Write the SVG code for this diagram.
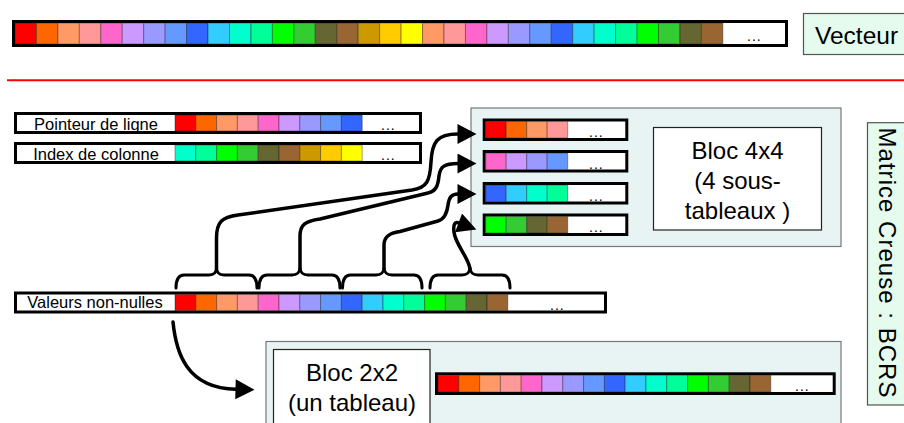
<svg xmlns="http://www.w3.org/2000/svg" width="904" height="423" viewBox="0 0 904 423">
<style>
text{font-family:"Liberation Sans",Arial,Helvetica,sans-serif;fill:#000}
.frame{fill:#fff;stroke:#000;stroke-width:3}
.cell rect{stroke:#000;stroke-opacity:.35;stroke-width:1}
.r{fill:#FF0000}.o{fill:#FF6600}.lo{fill:#FF9966}.pk{fill:#FF9999}.mg{fill:#FF66CC}.lv{fill:#CC99FF}.pw{fill:#9999FF}.cf{fill:#6699FF}.bl{fill:#3366FF}.cy{fill:#33CCFF}.aq{fill:#00FFCC}.sp{fill:#00FF99}.gr{fill:#00FF00}.g2{fill:#33CC33}.ol{fill:#666633}.br{fill:#996633}.gd{fill:#CC9900}.yo{fill:#FFCC00}.ye{fill:#FFFF00}
.dots{font-size:14px;letter-spacing:1px}
.lbl{font-size:16.5px;text-anchor:middle}
.big{font-size:24px;text-anchor:middle}
.cont{fill:#E8F4F4;stroke:#777;stroke-width:1.2}
.tbox{fill:#fff;stroke:#222;stroke-width:1.2}
.mint{fill:#E4FBEE;stroke:#555;stroke-width:1.2}
.conn path{fill:none;stroke:#000;stroke-width:3.5;stroke-linecap:round;stroke-linejoin:round}
.conn path.brace{stroke-width:3}
</style>
<defs>
<marker id="ah" markerUnits="userSpaceOnUse" markerWidth="20" markerHeight="20" viewBox="0 0 19 20" refX="0.5" refY="10" orient="auto">
<path d="M0,0 L19,10 L0,20 z" fill="#000"/>
</marker>
</defs>

<!-- Vecteur row -->
<g id="vector-array">
<rect class="frame" x="13.5" y="21.5" width="773" height="24"/>
<g class="cell">
<rect class="r" x="15" y="23" width="21.45" height="21"/>
<rect class="o" x="36.45" y="23" width="21.45" height="21"/>
<rect class="lo" x="57.9" y="23" width="21.45" height="21"/>
<rect class="pk" x="79.35" y="23" width="21.45" height="21"/>
<rect class="mg" x="100.8" y="23" width="21.45" height="21"/>
<rect class="lv" x="122.25" y="23" width="21.45" height="21"/>
<rect class="pw" x="143.7" y="23" width="21.45" height="21"/>
<rect class="cf" x="165.15" y="23" width="21.45" height="21"/>
<rect class="bl" x="186.6" y="23" width="21.45" height="21"/>
<rect class="cy" x="208.05" y="23" width="21.45" height="21"/>
<rect class="aq" x="229.5" y="23" width="21.45" height="21"/>
<rect class="sp" x="250.95" y="23" width="21.45" height="21"/>
<rect class="gr" x="272.4" y="23" width="21.45" height="21"/>
<rect class="g2" x="293.85" y="23" width="21.45" height="21"/>
<rect class="ol" x="315.3" y="23" width="21.45" height="21"/>
<rect class="br" x="336.75" y="23" width="21.45" height="21"/>
<rect class="gd" x="358.2" y="23" width="21.45" height="21"/>
<rect class="yo" x="379.65" y="23" width="21.45" height="21"/>
<rect class="ye" x="401.1" y="23" width="21.45" height="21"/>
<rect class="lo" x="422.55" y="23" width="21.45" height="21"/>
<rect class="pk" x="444" y="23" width="21.45" height="21"/>
<rect class="mg" x="465.45" y="23" width="21.45" height="21"/>
<rect class="lv" x="486.9" y="23" width="21.45" height="21"/>
<rect class="pw" x="508.35" y="23" width="21.45" height="21"/>
<rect class="cf" x="529.8" y="23" width="21.45" height="21"/>
<rect class="bl" x="551.25" y="23" width="21.45" height="21"/>
<rect class="cy" x="572.7" y="23" width="21.45" height="21"/>
<rect class="aq" x="594.15" y="23" width="21.45" height="21"/>
<rect class="sp" x="615.6" y="23" width="21.45" height="21"/>
<rect class="gr" x="637.05" y="23" width="21.45" height="21"/>
<rect class="g2" x="658.5" y="23" width="21.45" height="21"/>
<rect class="ol" x="679.95" y="23" width="21.45" height="21"/>
<rect class="br" x="701.4" y="23" width="21.45" height="21"/>
</g>
<text class="dots" x="747" y="41">...</text>
</g>

<g id="vecteur-label">
<rect class="mint" x="803.5" y="13.5" width="110" height="41"/>
<text x="815" y="44" style="font-size:24.5px">Vecteur</text>
</g>

<line x1="7" y1="80.3" x2="904" y2="80.3" stroke="#FF0000" stroke-width="2"/>

<!-- Pointeur de ligne -->
<g id="row-pointer">
<rect class="frame" x="15.5" y="113.5" width="405" height="19"/>
<text class="lbl" x="96" y="129.5">Pointeur de ligne</text>
<g class="cell">
<rect class="r" x="175" y="115" width="20.8" height="16"/>
<rect class="o" x="195.8" y="115" width="20.8" height="16"/>
<rect class="lo" x="216.6" y="115" width="20.8" height="16"/>
<rect class="pk" x="237.4" y="115" width="20.8" height="16"/>
<rect class="mg" x="258.2" y="115" width="20.8" height="16"/>
<rect class="lv" x="279" y="115" width="20.8" height="16"/>
<rect class="pw" x="299.8" y="115" width="20.8" height="16"/>
<rect class="cf" x="320.6" y="115" width="20.8" height="16"/>
<rect class="bl" x="341.4" y="115" width="20.8" height="16"/>
</g>
<text class="dots" x="381" y="130">...</text>
</g>

<!-- Index de colonne -->
<g id="row-index">
<rect class="frame" x="15.5" y="143.5" width="405" height="19"/>
<text class="lbl" x="96" y="159.5">Index de colonne</text>
<g class="cell">
<rect class="aq" x="175" y="145" width="20.8" height="16"/>
<rect class="sp" x="195.8" y="145" width="20.8" height="16"/>
<rect class="gr" x="216.6" y="145" width="20.8" height="16"/>
<rect class="g2" x="237.4" y="145" width="20.8" height="16"/>
<rect class="ol" x="258.2" y="145" width="20.8" height="16"/>
<rect class="br" x="279" y="145" width="20.8" height="16"/>
<rect class="gd" x="299.8" y="145" width="20.8" height="16"/>
<rect class="yo" x="320.6" y="145" width="20.8" height="16"/>
<rect class="ye" x="341.4" y="145" width="20.8" height="16"/>
</g>
<text class="dots" x="381" y="160">...</text>
</g>

<!-- Bloc 4x4 container -->
<g id="bloc4x4">
<rect class="cont" x="471" y="108" width="370" height="138.5"/>
<g id="sub1">
<rect class="frame" x="484.2" y="120" width="142.6" height="19.5"/>
<g class="cell">
<rect class="r" x="485.7" y="121.5" width="20.5" height="16.5"/>
<rect class="o" x="506.2" y="121.5" width="20.5" height="16.5"/>
<rect class="lo" x="526.7" y="121.5" width="20.5" height="16.5"/>
<rect class="pk" x="547.2" y="121.5" width="20.5" height="16.5"/>
</g>
<text class="dots" x="589" y="137">...</text>
</g>
<g id="sub2">
<rect class="frame" x="484.2" y="151.5" width="142.6" height="19.5"/>
<g class="cell">
<rect class="mg" x="485.7" y="153" width="20.5" height="16.5"/>
<rect class="lv" x="506.2" y="153" width="20.5" height="16.5"/>
<rect class="pw" x="526.7" y="153" width="20.5" height="16.5"/>
<rect class="cf" x="547.2" y="153" width="20.5" height="16.5"/>
</g>
<text class="dots" x="589" y="168.5">...</text>
</g>
<g id="sub3">
<rect class="frame" x="484.2" y="183.5" width="142.6" height="19.5"/>
<g class="cell">
<rect class="bl" x="485.7" y="185" width="20.5" height="16.5"/>
<rect class="cy" x="506.2" y="185" width="20.5" height="16.5"/>
<rect class="aq" x="526.7" y="185" width="20.5" height="16.5"/>
<rect class="sp" x="547.2" y="185" width="20.5" height="16.5"/>
</g>
<text class="dots" x="589" y="200.5">...</text>
</g>
<g id="sub4">
<rect class="frame" x="484.2" y="215" width="142.6" height="19.5"/>
<g class="cell">
<rect class="gr" x="485.7" y="216.5" width="20.5" height="16.5"/>
<rect class="g2" x="506.2" y="216.5" width="20.5" height="16.5"/>
<rect class="ol" x="526.7" y="216.5" width="20.5" height="16.5"/>
<rect class="br" x="547.2" y="216.5" width="20.5" height="16.5"/>
</g>
<text class="dots" x="589" y="232">...</text>
</g>
<g id="bloc4x4-label">
<rect class="tbox" x="653.5" y="127.5" width="168" height="102.5"/>
<text class="big" x="737.5" y="159">Bloc 4x4</text>
<text class="big" x="737.5" y="189">(4 sous-</text>
<text class="big" x="737.5" y="218.5">tableaux )</text>
</g>
</g>

<!-- Valeurs non-nulles -->
<g id="row-values">
<rect class="frame" x="15.5" y="293" width="590" height="19"/>
<text class="lbl" x="95" y="308">Valeurs non-nulles</text>
<g class="cell">
<rect class="r" x="175" y="294.5" width="20.8" height="16"/>
<rect class="o" x="195.8" y="294.5" width="20.8" height="16"/>
<rect class="lo" x="216.6" y="294.5" width="20.8" height="16"/>
<rect class="pk" x="237.4" y="294.5" width="20.8" height="16"/>
<rect class="mg" x="258.2" y="294.5" width="20.8" height="16"/>
<rect class="lv" x="279" y="294.5" width="20.8" height="16"/>
<rect class="pw" x="299.8" y="294.5" width="20.8" height="16"/>
<rect class="cf" x="320.6" y="294.5" width="20.8" height="16"/>
<rect class="bl" x="341.4" y="294.5" width="20.8" height="16"/>
<rect class="cy" x="362.2" y="294.5" width="20.8" height="16"/>
<rect class="aq" x="383" y="294.5" width="20.8" height="16"/>
<rect class="sp" x="403.8" y="294.5" width="20.8" height="16"/>
<rect class="gr" x="424.6" y="294.5" width="20.8" height="16"/>
<rect class="g2" x="445.4" y="294.5" width="20.8" height="16"/>
<rect class="ol" x="466.2" y="294.5" width="20.8" height="16"/>
<rect class="br" x="487" y="294.5" width="20.8" height="16"/>
</g>
<text class="dots" x="550" y="309.5">...</text>
</g>

<!-- Bloc 2x2 container -->
<g id="bloc2x2">
<rect class="cont" x="266" y="341.5" width="575" height="95"/>
<g id="bloc2x2-label">
<rect class="tbox" x="273.5" y="349.5" width="156.5" height="85"/>
<text class="big" x="352" y="380.7">Bloc 2x2</text>
<text class="big" x="352" y="410.7">(un tableau)</text>
</g>
<g id="array2x2">
<rect class="frame" x="436.5" y="373.8" width="397.7" height="19.7"/>
<g class="cell">
<rect class="r" x="438" y="375.3" width="20.8" height="16.7"/>
<rect class="o" x="458.8" y="375.3" width="20.8" height="16.7"/>
<rect class="lo" x="479.6" y="375.3" width="20.8" height="16.7"/>
<rect class="pk" x="500.4" y="375.3" width="20.8" height="16.7"/>
<rect class="mg" x="521.2" y="375.3" width="20.8" height="16.7"/>
<rect class="lv" x="542" y="375.3" width="20.8" height="16.7"/>
<rect class="pw" x="562.8" y="375.3" width="20.8" height="16.7"/>
<rect class="cf" x="583.6" y="375.3" width="20.8" height="16.7"/>
<rect class="bl" x="604.4" y="375.3" width="20.8" height="16.7"/>
<rect class="cy" x="625.2" y="375.3" width="20.8" height="16.7"/>
<rect class="aq" x="646" y="375.3" width="20.8" height="16.7"/>
<rect class="sp" x="666.8" y="375.3" width="20.8" height="16.7"/>
<rect class="gr" x="687.6" y="375.3" width="20.8" height="16.7"/>
<rect class="g2" x="708.4" y="375.3" width="20.8" height="16.7"/>
<rect class="ol" x="729.2" y="375.3" width="20.8" height="16.7"/>
<rect class="br" x="750" y="375.3" width="20.8" height="16.7"/>
</g>
<text class="dots" x="795" y="390.5">...</text>
</g>
</g>

<!-- Matrice Creuse label -->
<g id="matrice-label">
<rect class="mint" x="867.5" y="122.7" width="45" height="282.3"/>
<text transform="translate(878.5,262.5) rotate(90)" x="0" y="0" text-anchor="middle" style="font-size:24px" textLength="270" lengthAdjust="spacing">Matrice Creuse : BCRS</text>
</g>

<!-- Connectors -->
<g id="connectors" class="conn">
<path class="brace" d="M176,288 C176,280 178,275 184,275 L209,275 C214,275 216.5,272 216.5,268 C216.5,272 219,275 224,275 L249,275 C255,275 257,280 257,288"/>
<path class="brace" d="M259,288 C259,280 261,275 267,275 L292,275 C297,275 300,272 300,268 C300,272 303,275 308,275 L332,275 C338,275 340,280 340,288"/>
<path class="brace" d="M342.5,288 C342.5,280 344.5,275 350.5,275 L376,275 C381,275 384,272 384,268 C384,272 387,275 392,275 L414,275 C420,275 422,280 422,288"/>
<path class="brace" d="M430,288 C430,280 432,275 438,275 L462,275 C467,275 470,272 470,268 C470,272 473,275 478,275 L502,275 C508,275 510,280 510,288"/>
<path marker-end="url(#ah)" d="M216.5,269 L216.5,238 C216.5,222 222,217 238,215 L412,190 C427,187.5 430,181 431,162 C432,142 437,134 458,134"/>
<path marker-end="url(#ah)" d="M300,269 L300,236 C300,225 305,221 320,219 L428,193 C436,191 438,186 439,176 C440,167 444,163.5 458,163.5"/>
<path marker-end="url(#ah)" d="M384,269 L384,245 C384,237 389,233 400,231.5 L438,221 C445,219 447,213 448,205 C449,198 451,194 458,194"/>
<path marker-end="url(#ah)" d="M470,269 C469,258 455,244 454,232 C453,224 455,221.5 459,223"/>
<path marker-end="url(#ah)" d="M173,322 C176,352 186,388 236,389.3"/>
</g>
</svg>
